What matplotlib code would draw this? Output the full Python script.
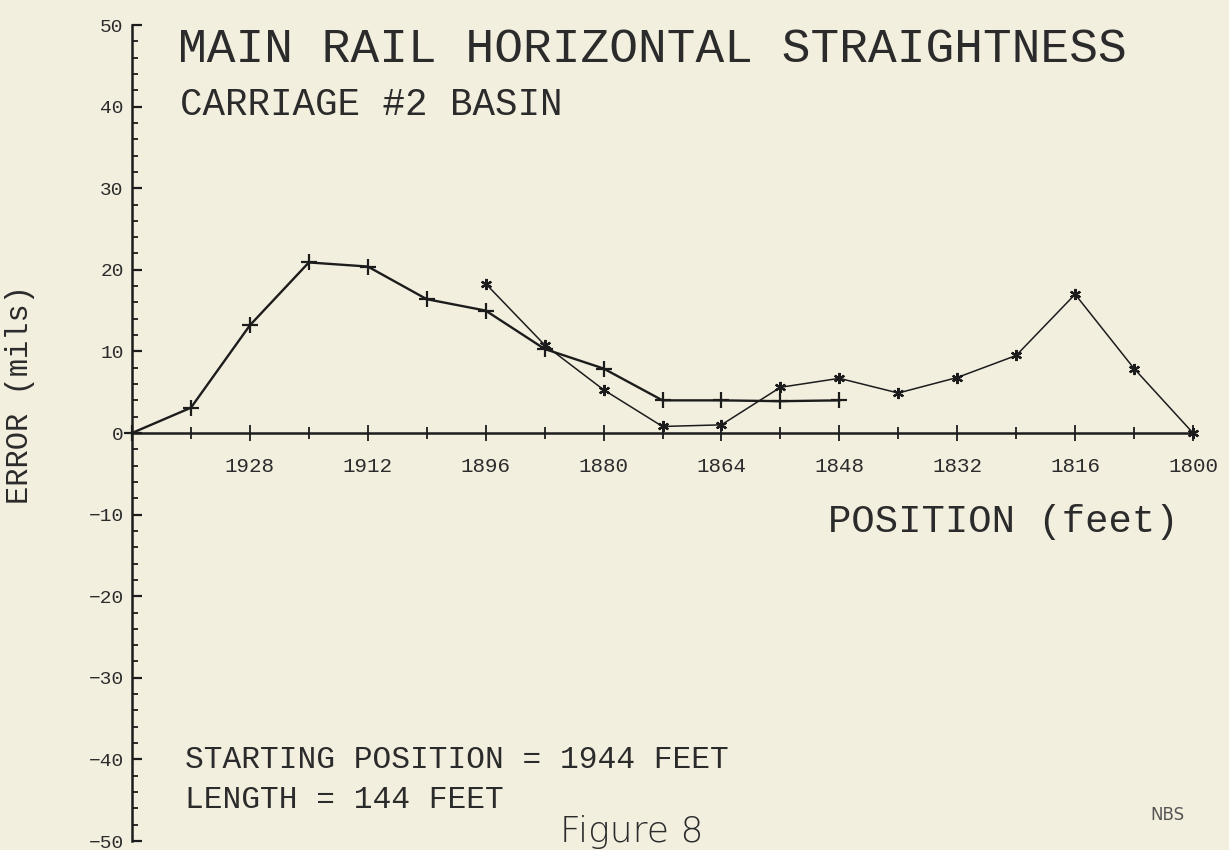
import matplotlib
matplotlib.use("Agg")
import matplotlib.pyplot as plt
from matplotlib.ticker import MultipleLocator

# ---- data ----
pos_a = [1944, 1936, 1928, 1920, 1912, 1904, 1896, 1888, 1880, 1872, 1864, 1856, 1848]
err_a = [0, 3.1, 13.2, 20.9, 20.4, 16.4, 15.0, 10.3, 7.9, 4.0, 4.0, 3.9, 4.0]
pos_b = [1896, 1888, 1880, 1872, 1864, 1856, 1848, 1840, 1832, 1824, 1816, 1808, 1800]
err_b = [18.3, 10.8, 5.3, 0.8, 1.0, 5.6, 6.7, 4.9, 6.8, 9.5, 17.0, 7.9, 0.0]
x_major = [1928, 1912, 1896, 1880, 1864, 1848, 1832, 1816, 1800]
x_labels = ["1928", "1912", "1896", "1880", "1864", "1848", "1832", "1816", "1800"]
y_major = [-50, -40, -30, -20, -10, 0, 10, 20, 30, 40, 50]

BG = "#f3efdf"
INK = "#1c1c1c"
TXT = "#2b2b2b"
MONO = ["Liberation Mono", "DejaVu Sans Mono"]

W, H = 1229, 850
fig = plt.figure(figsize=(W / 100, H / 100), dpi=100, facecolor=BG)

def px(x, y):
    return x / W, 1 - y / H

ax = fig.add_axes([132 / W, 1 - 841 / H, (1193 - 132) / W, (841 - 25) / H])
ax.set_facecolor(BG)
ax.set_xlim(1944, 1800)
ax.set_ylim(-50, 50)

for s in ("top", "right"):
    ax.spines[s].set_visible(False)
ax.spines["bottom"].set_position(("data", 0))
ax.spines["bottom"].set_linewidth(1.8)
ax.spines["left"].set_linewidth(1.8)
ax.spines["bottom"].set_color(INK)
ax.spines["left"].set_color(INK)

ax.set_xticks(x_major)
ax.set_xticklabels(x_labels)
ax.xaxis.set_minor_locator(MultipleLocator(8))
ax.set_yticks(y_major)
ax.yaxis.set_minor_locator(MultipleLocator(2))

ax.tick_params(axis="x", which="major", direction="inout", length=12, width=1.3,
               color=INK, labelsize=15, pad=11, labelcolor=TXT)
ax.tick_params(axis="x", which="minor", direction="inout", length=8, width=1.3, color=INK)
ax.tick_params(axis="y", which="major", direction="in", length=7, width=1.6,
               color=INK, labelsize=14, pad=6, labelcolor=TXT)
ax.tick_params(axis="y", which="minor", direction="in", length=4, width=1.3, color=INK)
for lab in ax.get_xticklabels() + ax.get_yticklabels():
    lab.set_family(MONO)

ax.plot(pos_a, err_a, color=INK, lw=1.7, marker="+", ms=11, mew=1.6, clip_on=False, zorder=3)
ax.plot(pos_b, err_b, color=INK, lw=1.1, marker=(6, 2, 0), ms=8, mew=1.6, clip_on=False, zorder=3)

def txt(x, y, s, size, **kw):
    kw.setdefault("ha", "left")
    kw.setdefault("va", "center")
    kw.setdefault("family", MONO)
    kw.setdefault("color", TXT)
    fig.text(*px(x, y), s, fontsize=size, **kw)

txt(178, 50, "MAIN RAIL HORIZONTAL STRAIGHTNESS", 34.5)
txt(180, 105, "CARRIAGE #2 BASIN", 27)
txt(828, 522, "POSITION (feet)", 28)
txt(20, 395, "ERROR (mils)", 22, rotation=90, ha="center")
txt(185, 760, "STARTING POSITION = 1944 FEET", 22.5)
txt(185, 800, "LENGTH = 144 FEET", 22.5)
txt(560, 849, "Figure 8", 26, va="bottom", family=["DejaVu Sans"], fontweight="light")
txt(1150, 815, "NBS", 12, family=["DejaVu Sans"], color="#555555")

fig.savefig("out.png", dpi=100, facecolor=BG)
